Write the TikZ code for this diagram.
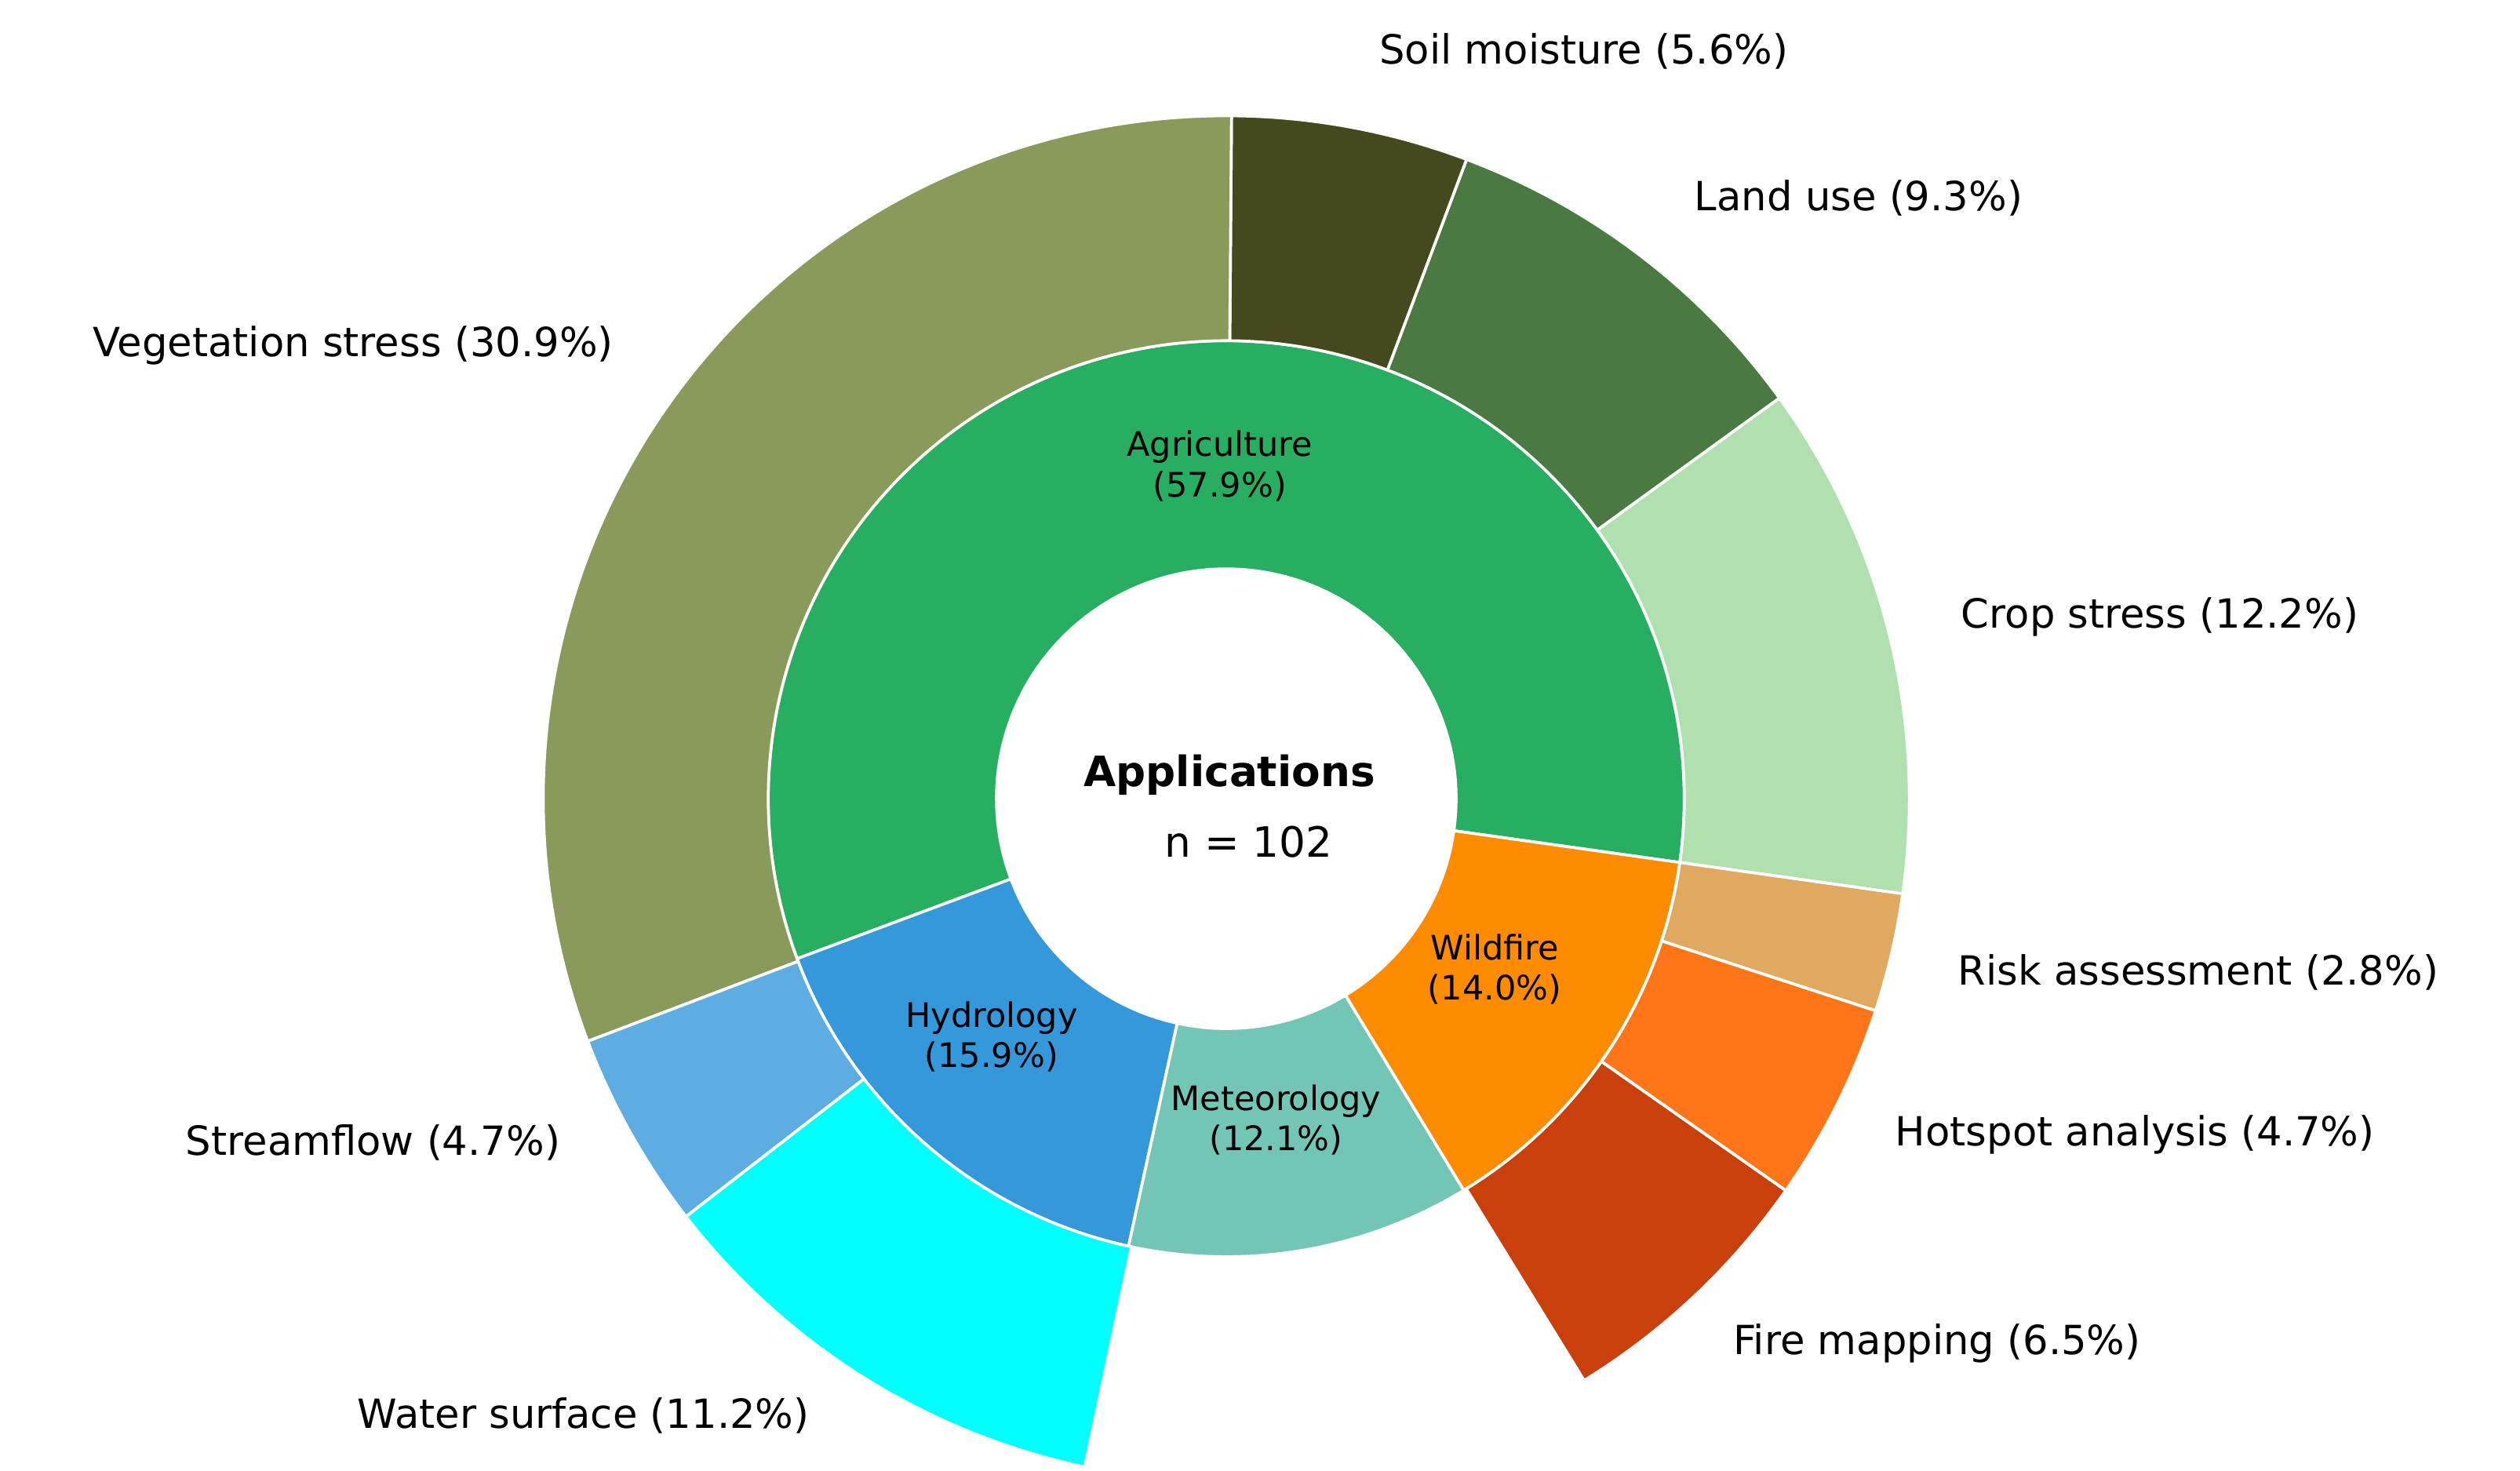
\documentclass[tikz,border=0pt]{standalone}
\usepackage{fontspec}
\setmainfont{DejaVu Sans}
\definecolor{agri}{HTML}{27AE60}
\definecolor{hydro}{HTML}{3498DB}
\definecolor{meteo}{HTML}{73C6B6}
\definecolor{wild}{HTML}{FF8C00}
\definecolor{veg}{HTML}{8A9A5B}
\definecolor{soil}{HTML}{444A1D}
\definecolor{land}{HTML}{4B7942}
\definecolor{crop}{HTML}{B0E0AD}
\definecolor{stream}{HTML}{5DADE2}
\definecolor{water}{HTML}{00FFFF}
\definecolor{firemap}{HTML}{C9400D}
\definecolor{hot}{HTML}{FF7518}
\definecolor{risk}{HTML}{E1A95F}
\tikzset{wedge/.style={fill=#1,draw=white,line width=0.9pt,line join=round},
 outlab/.style={font=\fontsize{12.5}{14}\selectfont,inner sep=0pt},
 inlab/.style={font=\fontsize{10.5}{12.5}\selectfont,align=center,inner sep=0pt}}
\newcommand{\wdg}[5]{\path[wedge=#1] (#2:#4) arc[start angle=#2,end angle=#3,radius=#4] -- (#3:#5) arc[start angle=#3,end angle=#2,radius=#5] -- cycle;}
\begin{document}
\begin{tikzpicture}[x=0.5pt,y=-0.5pt]
\path[use as bounding box,fill=white] (0,0) rectangle (1568,915);
\begin{scope}[shift={(763,497)},yscale=-1]
\wdg{agri}{-8}{200.44}{143}{285}
\wdg{hydro}{200.44}{257.68}{143}{285}
\wdg{meteo}{257.68}{301.24}{143}{285}
\wdg{wild}{301.24}{352}{143}{285}
\wdg{crop}{-8}{35.92}{285}{425}
\wdg{land}{35.92}{69.4}{285}{425}
\wdg{soil}{69.4}{89.56}{285}{425}
\wdg{veg}{89.56}{200.8}{285}{425}
\wdg{stream}{200.8}{217.72}{285}{425}
\wdg{water}{217.72}{258.04}{285}{425}
\wdg{firemap}{301.6}{325}{285}{425}
\wdg{hot}{325}{341.92}{285}{425}
\wdg{risk}{341.92}{352}{285}{425}
\end{scope}
\node[inlab] (agl) at (759,290) {Agriculture\\(57.9\%)};
\node[inlab] (hyl) at (617,645) {Hydrology\\(15.9\%)};
\node[inlab] (mel) at (794,697) {Meteorology\\(12.1\%)};
\node[inlab] (wil) at (930,603) {Wildfire\\(14.0\%)};
\node[font=\bfseries\fontsize{13}{15}\selectfont,inner sep=0pt] (app) at (765,482) {Applications};
\node[font=\fontsize{13}{15}\selectfont,inner sep=0pt] (n) at (777,524) {n = 102};
\node[outlab,anchor=east] (l1) at (382,215) {Vegetation stress (30.9\%)};
\node[outlab,anchor=west] (l2) at (858,32) {Soil moisture (5.6\%)};
\node[outlab,anchor=west] (l3) at (1054,123) {Land use (9.3\%)};
\node[outlab,anchor=west] (l4) at (1220,384) {Crop stress (12.2\%)};
\node[outlab,anchor=west] (l5) at (1218,605) {Risk assessment (2.8\%)};
\node[outlab,anchor=west] (l6) at (1179,706) {Hotspot analysis (4.7\%)};
\node[outlab,anchor=west] (l7) at (1078,836) {Fire mapping (6.5\%)};
\node[outlab,anchor=east] (l8) at (504,881) {Water surface (11.2\%)};
\node[outlab,anchor=east] (l9) at (349,711) {Streamflow (4.7\%)};
\end{tikzpicture}
\end{document}
